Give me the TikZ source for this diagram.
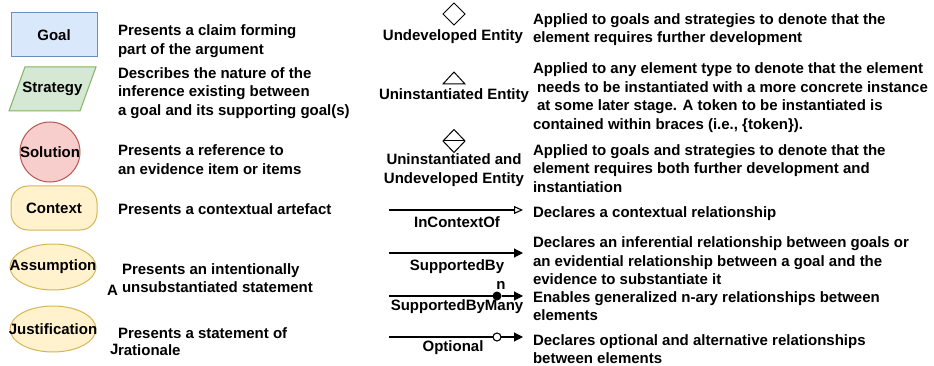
\documentclass[tikz,border=0pt]{standalone}
\usepackage{fontspec}
\setmainfont{Liberation Sans}
\usetikzlibrary{shapes.geometric,arrows.meta}
\definecolor{goalfill}{HTML}{DAE8FC}
\definecolor{goaldraw}{HTML}{6C8EBF}
\definecolor{stratfill}{HTML}{D5E8D4}
\definecolor{stratdraw}{HTML}{82B366}
\definecolor{solfill}{HTML}{F8CECC}
\definecolor{soldraw}{HTML}{B85450}
\definecolor{ctxfill}{HTML}{FFF2CC}
\definecolor{ctxdraw}{HTML}{D6B656}
\begin{document}
\begin{tikzpicture}[x=1pt,y=-1pt,
  every node/.style={font=\fontsize{15}{18.5}\selectfont\bfseries, inner sep=0pt, outer sep=0pt},
  desc/.style={anchor=west, align=left},
  lbl/.style={anchor=center, align=center},
  shp/.style={line width=1pt},
  legline/.style={line width=1.1pt},
  filledtip/.style={-{Triangle[length=9pt,width=9pt]}},
  opentip/.style={-{Triangle[open,length=9pt,width=8pt]}}
]
\useasboundingbox (0,0) rectangle (934,366);

% ---- left column shapes ----
\node[shp, draw=goaldraw, fill=goalfill, minimum width=86pt, minimum height=44pt] (goal) at (54,35) {Goal};

\draw[shp, draw=stratdraw, fill=stratfill] (25,67) -- (96,67) -- (80,111) -- (9,111) -- cycle;
\node (strategy) at (52.5,89) {Strategy};

\node[shp, circle, draw=soldraw, fill=solfill, minimum size=60pt] (solshape) at (50,152) {};
\node (solution) at (solshape.center) {Solution};

\node[shp, draw=ctxdraw, fill=ctxfill, rounded corners=17pt, minimum width=86pt, minimum height=44pt] (context) at (54,208) {Context};

\node[shp, ellipse, draw=ctxdraw, fill=ctxfill, minimum width=86pt, minimum height=46pt] (assshape) at (53,267) {};
\node (assumption) at (assshape.center) {Assumption};

\node[shp, ellipse, draw=ctxdraw, fill=ctxfill, minimum width=86pt, minimum height=46pt] (jusshape) at (53,329) {};
\node (justification) at (jusshape.center) {Justification};

% ---- left column descriptions ----
\node[desc] (goaltxt) at (118,41) {Presents a claim forming\\part of the argument};
\node[desc] (strattxt) at (118,93) {Describes the nature of the\\inference existing between\\a goal and its supporting goal(s)};
\node[desc] (soltxt) at (118,159.5) {Presents a reference to\\an evidence item or items};
\node[desc] (ctxtxt) at (118,209) {Presents a contextual artefact};
\node[desc] (asstxt) at (122,278) {Presents an intentionally\\unsubstantiated statement};
\node[anchor=west] (assA) at (107,290) {A};
\node[desc] (justxt) at (118,333.5) {Presents a statement of};
\node[anchor=west] (jusJ) at (110,349) {J};
\node[anchor=west] (jusrat) at (118,350.5) {rationale};

% ---- right column symbols ----
\node[shp, diamond, draw, minimum width=22pt, minimum height=22pt] (undevsym) at (454,14) {};
\node[lbl] (undevlbl) at (453,36.5) {Undeveloped Entity};

\draw[shp] (443,84) -- (454,72) -- (465,84) -- cycle;
\node[lbl] (uninstlbl) at (454,95.5) {Uninstantiated Entity};

\node[shp, diamond, draw, minimum width=22pt, minimum height=23pt] (bothsym) at (454,141) {};
\draw[shp] (bothsym.west) -- (bothsym.east);
\node[lbl] (bothlbl) at (454,170) {Uninstantiated and\\Undeveloped Entity};

% ---- relationship lines ----
\coordinate (ctxA) at (389,210);
\coordinate (ctxB) at (523,210);
\draw[legline, opentip] (ctxA) -- (ctxB);
\node[lbl] (ctxlbl) at (457,222) {InContextOf};

\coordinate (supA) at (389,253);
\coordinate (supB) at (523,253);
\draw[legline, filledtip] (supA) -- (supB);
\node[lbl] (suplbl) at (457,266.5) {SupportedBy};

\coordinate (manyA) at (389,296);
\coordinate (manyB) at (523,296);
\node[circle, fill=black, minimum size=9pt] (manydot) at (497,296) {};
\draw[legline] (manyA) -- (manydot);
\draw[legline, filledtip] (manydot) -- (manyB);
\node[lbl] (nlbl) at (501,285) {n};
\node[lbl] (manylbl) at (457,306.5) {SupportedByMany};

\coordinate (optA) at (389,337);
\coordinate (optB) at (523,337);
\node[circle, draw, fill=white, line width=1.1pt, minimum size=8pt] (optcirc) at (497,337) {};
\draw[legline] (optA) -- (optcirc);
\draw[legline, filledtip] (optcirc) -- (optB);
\node[lbl] (optlbl) at (453,348) {Optional};

% ---- right column descriptions ----
\node[desc] (undevtxt) at (533,29.5) {Applied to goals and strategies to denote that the\\element requires further development};
\node[desc] (uninsttxt) at (533,97.5) {Applied to any element type to denote that the element\\\hspace*{4pt}needs to be instantiated with a more concrete instance\\\hspace*{4pt}at some later stage. A token to be instantiated is\\contained within braces (i.e., \{token\}).};
\node[desc] (bothtxt) at (533,168.5) {Applied to goals and strategies to denote that the\\element requires both further development and\\instantiation};
\node[desc] (ctxdesc) at (533,213.5) {Declares a contextual relationship};
\node[desc] (supdesc) at (533,261) {Declares an inferential relationship between goals or\\an evidential relationship between a goal and the\\evidence to substantiate it};
\node[desc] (manydesc) at (533,306) {Enables generalized n-ary relationships between\\elements};
\node[desc] (optdesc) at (533,349) {Declares optional and alternative relationships\\between elements};
\end{tikzpicture}
\end{document}
